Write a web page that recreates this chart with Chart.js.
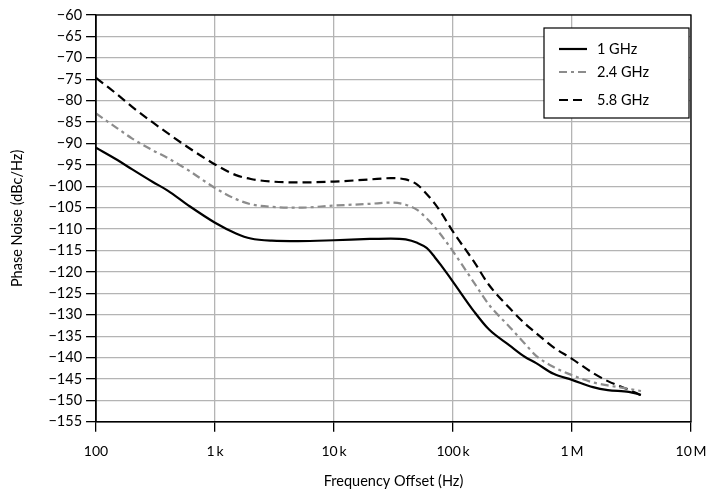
<!DOCTYPE html>
<html>
<head>
<meta charset="utf-8">
<script src="https://cdn.jsdelivr.net/npm/chart.js@4"></script>
<style>
  html, body { margin: 0; padding: 0; background: #fff; }
  #wrap { width: 707px; height: 493px; }
</style>
</head>
<body>
<div id="wrap"><canvas id="noiseChart" width="707" height="493"></canvas></div>
<script>
// offset frequency (Hz)
const freqs = [100, 150, 200, 300, 400, 600, 1000, 1500, 2000, 3000, 5000, 10000, 20000, 30000, 40000,
    50000, 60000, 70000, 80000, 100000, 150000, 200000, 300000, 400000, 500000, 700000,
    1000000, 1500000, 2000000, 3000000, 3800000];

// phase noise (dBc/Hz) per carrier
const noise1G = [-91, -93.8, -96, -99, -101, -104.5, -108.5, -111, -112.2, -112.7, -112.8, -112.6, -112.3, -112.2, -112.4,
    -113.2, -114.4, -116.5, -118.6, -122.3, -129.2, -133.4, -137.2, -139.8, -141.3, -143.8,
    -145.2, -146.9, -147.6, -148, -148.7];
const noise2G4 = [-83, -86.4, -88.8, -91.6, -93.4, -96.3, -100.4, -103, -104.2, -104.8, -105, -104.5, -104.1, -103.8, -104.3,
    -105.5, -107.5, -109.5, -111.5, -115.2, -122.5, -127.6, -132.9, -136.7, -139.6, -142.2,
    -144.1, -145.8, -146.5, -147.3, -147.8];
const noise5G8 = [-74.7, -78.5, -81.4, -85.1, -87.6, -91, -94.9, -97.4, -98.3, -98.9, -99.1, -98.9, -98.4, -98.1, -98.4,
    -99.6, -101.8, -104, -106.3, -110.6, -117.6, -123, -128.5, -132, -134.3, -137.6,
    -140.3, -143.6, -145.5, -147.5, -148.8];

const seriesNames = ["1 GHz", "2.4 GHz", "5.8 GHz"];
const xTickValues = [100, 1000, 10000, 100000, 1000000, 10000000];
const xTickLabels = ["100", "1\u2009k", "10\u2009k", "100\u2009k", "1\u2009M", "10\u2009M"];

const FONT = "Lato, 'Noto Sans', sans-serif";
const FONT_SIZE = 14.5;

const toPoints = ys => freqs.map((f, i) => ({ x: f, y: ys[i] }));

// legend box drawn inside the plot, top-right
const boxLegend = {
    id: "boxLegend",
    afterDraw(chart) {
        const { ctx, chartArea } = chart;
        const w = 145, h = 90;
        const x0 = chartArea.right - 2 - w;
        const y0 = chartArea.top + 13;
        const rows = [21, 44, 72];
        ctx.save();
        ctx.fillStyle = "#fff";
        ctx.fillRect(x0, y0, w, h);
        ctx.strokeStyle = "#000";
        ctx.lineWidth = 1.2;
        ctx.strokeRect(x0, y0, w, h);
        chart.data.datasets.forEach((ds, i) => {
            const y = y0 + rows[i];
            ctx.beginPath();
            ctx.setLineDash(ds.borderDash || []);
            ctx.strokeStyle = ds.borderColor;
            ctx.lineWidth = ds.borderWidth;
            ctx.moveTo(x0 + 15, y);
            ctx.lineTo(x0 + 43, y);
            ctx.stroke();
            ctx.setLineDash([]);
            ctx.fillStyle = "#000";
            ctx.font = FONT_SIZE + "px " + FONT;
            ctx.textBaseline = "middle";
            ctx.fillText(ds.label, x0 + 53, y);
        });
        ctx.restore();
    }
};

// black frame around the plot area
const plotFrame = {
    id: "plotFrame",
    afterDatasetsDraw(chart) {
        const { ctx, chartArea } = chart;
        ctx.save();
        ctx.strokeStyle = "#000";
        ctx.lineWidth = 1.3;
        ctx.strokeRect(chartArea.left, chartArea.top, chartArea.right - chartArea.left, chartArea.bottom - chartArea.top);
        ctx.restore();
    }
};

new Chart(document.getElementById("noiseChart").getContext("2d"), {
    type: "line",
    data: {
        datasets: [
            {
                label: seriesNames[0],
                data: toPoints(noise1G),
                borderColor: "#000",
                borderWidth: 2.2
            },
            {
                label: seriesNames[1],
                data: toPoints(noise2G4),
                borderColor: "#8c8c8c",
                borderWidth: 2.2,
                borderDash: [8, 4, 3, 4]
            },
            {
                label: seriesNames[2],
                data: toPoints(noise5G8),
                borderColor: "#000",
                borderWidth: 2.2,
                borderDash: [9, 5]
            }
        ]
    },
    options: {
        responsive: false,
        animation: false,
        layout: { padding: { left: 9, right: 16, top: 15, bottom: 3 } },
        elements: {
            point: { radius: 0 },
            line: { cubicInterpolationMode: "monotone", fill: false }
        },
        plugins: {
            legend: { display: false },
            tooltip: { enabled: false }
        },
        scales: {
            x: {
                type: "logarithmic",
                min: 100,
                max: 10000000,
                afterBuildTicks: axis => {
                    axis.ticks = xTickValues.map(v => ({ value: v }));
                },
                // keep the "10 M" label inside the canvas
                afterFit: axis => {
                    axis.paddingRight = 16;
                },
                ticks: {
                    autoSkip: false,
                    maxRotation: 0,
                    color: "#000",
                    font: { family: FONT, size: 14 },
                    padding: 11,
                    callback: value => xTickLabels[xTickValues.indexOf(value)]
                },
                grid: { color: "#b4b4b4", lineWidth: 1.3, tickColor: "#000", tickLength: 10 },
                border: { color: "#000", width: 1.3 },
                title: {
                    display: true,
                    text: "Frequency Offset (Hz)",
                    color: "#000",
                    font: { family: FONT, size: FONT_SIZE },
                    padding: { top: 2, bottom: 0 }
                }
            },
            y: {
                min: -155,
                max: -60,
                ticks: {
                    stepSize: 5,
                    color: "#000",
                    font: { family: FONT, size: FONT_SIZE },
                    padding: 4,
                    callback: value => (value < 0 ? "\u2212" + Math.abs(value) : String(value))
                },
                grid: { color: "#b4b4b4", lineWidth: 1.3, tickColor: "#000", tickLength: 10 },
                border: { color: "#000", width: 1.3 },
                title: {
                    display: true,
                    text: "Phase Noise (dBc/Hz)",
                    color: "#000",
                    font: { family: FONT, size: FONT_SIZE },
                    padding: { top: 0, bottom: 18 }
                }
            }
        }
    },
    plugins: [plotFrame, boxLegend]
});
</script>
</body>
</html>
